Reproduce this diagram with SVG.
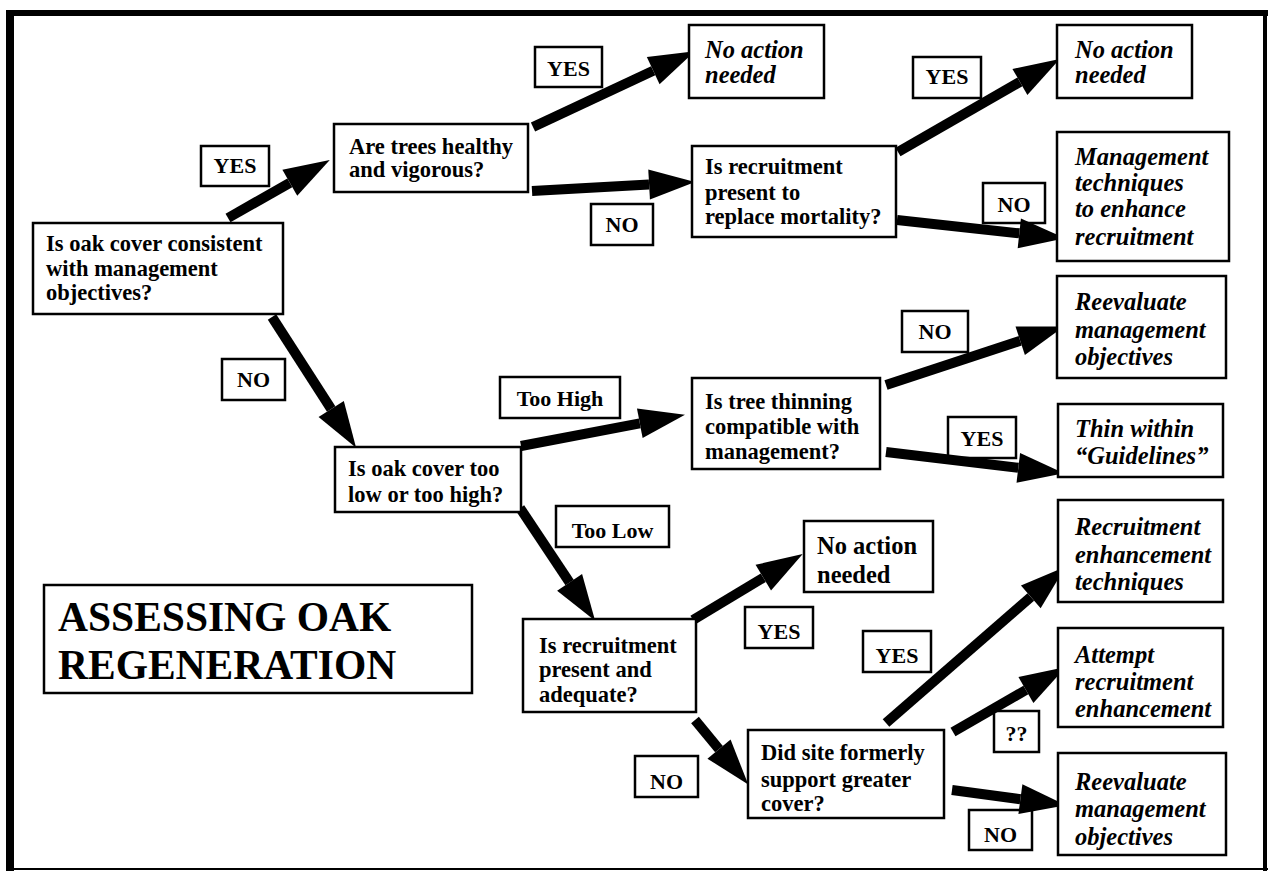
<svg xmlns="http://www.w3.org/2000/svg" width="1268" height="871" viewBox="0 0 1268 871">
<defs>
<style>
.box{fill:#fff;stroke:#000;stroke-width:2.5}
.lbl{fill:#fff;stroke:#000;stroke-width:2.5}
.q{font-family:"Liberation Serif","Times New Roman",serif;font-weight:bold;font-size:22.5px;fill:#000}
.a{font-family:"Liberation Serif","Times New Roman",serif;font-weight:bold;font-style:italic;font-size:24.5px;fill:#000}
.r{font-family:"Liberation Serif","Times New Roman",serif;font-weight:bold;font-size:24.5px;fill:#000}
.t{font-family:"Liberation Serif","Times New Roman",serif;font-weight:bold;font-size:22px;fill:#000;text-anchor:middle}
.title{font-family:"Liberation Serif","Times New Roman",serif;font-weight:bold;font-size:41.5px;fill:#000}
.arr{stroke:#000;stroke-width:10;fill:none;marker-end:url(#head)}
</style>
<marker id="head" markerUnits="userSpaceOnUse" markerWidth="48" markerHeight="32" refX="0" refY="15" orient="auto" overflow="visible">
<path d="M0,0 L46,15 L0,30 Z" fill="#000"/>
</marker>
</defs>
<rect width="1268" height="871" fill="#fff"/>
<g id="frame" fill="#000">
<rect x="6" y="10" width="1262" height="6"/>
<rect x="6" y="10" width="8" height="861"/>
<rect x="1263" y="10" width="4" height="861"/>
<rect x="6" y="868" width="1262" height="2"/>
</g>
<g id="labels">
<g id="lbl1"><rect class="lbl" x="201" y="146" width="68" height="40"/><text class="t" x="235" y="173">YES</text></g>
<g id="lbl2"><rect class="lbl" x="535" y="47" width="67" height="40"/><text class="t" x="568.5" y="76">YES</text></g>
<g id="lbl3"><rect class="lbl" x="591" y="204" width="62" height="41"/><text class="t" x="622" y="232">NO</text></g>
<g id="lbl4"><rect class="lbl" x="913" y="57" width="68" height="41"/><text class="t" x="947" y="84">YES</text></g>
<g id="lbl5"><rect class="lbl" x="983" y="183" width="62" height="40"/><text class="t" x="1014" y="212">NO</text></g>
<g id="lbl6"><rect class="lbl" x="222" y="359" width="63" height="41"/><text class="t" x="253.5" y="387">NO</text></g>
<g id="lbl7"><rect class="lbl" x="500" y="377" width="120" height="41"/><text class="t" x="560" y="406">Too High</text></g>
<g id="lbl8"><rect class="lbl" x="902" y="311" width="66" height="41"/><text class="t" x="935" y="339">NO</text></g>
<g id="lbl9"><rect class="lbl" x="948" y="417" width="68" height="41"/><text class="t" x="982" y="446">YES</text></g>
<g id="lbl10"><rect class="lbl" x="556" y="506" width="113" height="41"/><text class="t" x="612.5" y="538">Too Low</text></g>
<g id="lbl11"><rect class="lbl" x="745" y="607" width="68" height="41"/><text class="t" x="779" y="639">YES</text></g>
<g id="lbl12"><rect class="lbl" x="863" y="631" width="68" height="41"/><text class="t" x="897" y="663">YES</text></g>
<g id="lbl13"><rect class="lbl" x="994" y="711" width="45" height="41"/><text class="t" x="1016.5" y="741">??</text></g>
<g id="lbl14"><rect class="lbl" x="969" y="810" width="63" height="40"/><text class="t" x="1000.5" y="842">NO</text></g>
<g id="lbl15"><rect class="lbl" x="635" y="756" width="63" height="41"/><text class="t" x="666.5" y="789">NO</text></g>
</g>
<g id="connectors">
<line class="arr" x1="228" y1="218" x2="289.8" y2="182.8"/>
<line class="arr" x1="533" y1="127" x2="653.2" y2="70.7"/>
<line class="arr" x1="532" y1="191" x2="649.1" y2="184.5"/>
<line class="arr" x1="898" y1="152" x2="1019.9" y2="81.9"/>
<line class="arr" x1="897" y1="220" x2="1019.3" y2="233.3"/>
<line class="arr" x1="886" y1="385" x2="1020.2" y2="340.8"/>
<line class="arr" x1="886" y1="452" x2="1018.3" y2="467.8"/>
<line class="arr" x1="272" y1="317" x2="331.2" y2="409"/>
<line class="arr" x1="521" y1="446" x2="639.8" y2="423.3"/>
<line class="arr" x1="520" y1="508" x2="569.6" y2="582.4"/>
<line class="arr" x1="693" y1="620" x2="763.3" y2="577.7"/>
<line class="arr" x1="695" y1="720" x2="719" y2="749.1"/>
<line class="arr" x1="886" y1="723" x2="1030.8" y2="596.9"/>
<line class="arr" x1="953" y1="732" x2="1025.9" y2="690"/>
<line class="arr" x1="952" y1="790" x2="1020.4" y2="799.2"/>
</g>
<g id="nodeA"><rect class="box" x="33" y="223" width="250" height="91"/><text class="q"><tspan x="46" y="251">Is oak cover consistent</tspan><tspan x="46" y="276">with management</tspan><tspan x="46" y="300">objectives?</tspan></text></g>
<g id="nodeB"><rect class="box" x="334" y="124" width="194" height="68"/><text class="q"><tspan x="349" y="154">Are trees healthy</tspan><tspan x="349" y="177">and vigorous?</tspan></text></g>
<g id="nodeC"><rect class="box" x="689" y="25" width="135" height="73"/><text class="a"><tspan x="705" y="58">No action</tspan><tspan x="705" y="83">needed</tspan></text></g>
<g id="nodeD"><rect class="box" x="692" y="146" width="204" height="91"/><text class="q"><tspan x="705" y="174">Is recruitment</tspan><tspan x="705" y="200">present to</tspan><tspan x="705" y="224">replace mortality?</tspan></text></g>
<g id="nodeE"><rect class="box" x="1057" y="25" width="135" height="73"/><text class="a"><tspan x="1075" y="58">No action</tspan><tspan x="1075" y="83">needed</tspan></text></g>
<g id="nodeF"><rect class="box" x="1057" y="132" width="172" height="129"/><text class="a"><tspan x="1075" y="165">Management</tspan><tspan x="1075" y="191">techniques</tspan><tspan x="1075" y="217">to enhance</tspan><tspan x="1075" y="245">recruitment</tspan></text></g>
<g id="nodeG"><rect class="box" x="1057" y="276" width="169" height="102"/><text class="a"><tspan x="1075" y="310">Reevaluate</tspan><tspan x="1075" y="338">management</tspan><tspan x="1075" y="365">objectives</tspan></text></g>
<g id="nodeH"><rect class="box" x="692" y="378" width="188" height="91"/><text class="q"><tspan x="705" y="409">Is tree thinning</tspan><tspan x="705" y="434">compatible with</tspan><tspan x="705" y="459">management?</tspan></text></g>
<g id="nodeI"><rect class="box" x="1058" y="404" width="165" height="73"/><text class="a"><tspan x="1075" y="437">Thin within</tspan><tspan x="1075" y="464">“Guidelines”</tspan></text></g>
<g id="nodeJ"><rect class="box" x="335" y="447" width="186" height="65"/><text class="q"><tspan x="348" y="476">Is oak cover too</tspan><tspan x="348" y="502">low or too high?</tspan></text></g>
<g id="nodeK"><rect class="box" x="523" y="619" width="173" height="93"/><text class="q"><tspan x="539" y="653">Is recruitment</tspan><tspan x="539" y="677">present and</tspan><tspan x="539" y="702">adequate?</tspan></text></g>
<g id="nodeL"><rect class="box" x="804" y="521" width="129" height="71"/><text class="r"><tspan x="817" y="554">No action</tspan><tspan x="817" y="583">needed</tspan></text></g>
<g id="nodeM"><rect class="box" x="1058" y="500" width="165" height="102"/><text class="a"><tspan x="1075" y="535">Recruitment</tspan><tspan x="1075" y="563">enhancement</tspan><tspan x="1075" y="590">techniques</tspan></text></g>
<g id="nodeN"><rect class="box" x="1058" y="628" width="165" height="99"/><text class="a"><tspan x="1075" y="663">Attempt</tspan><tspan x="1075" y="690">recruitment</tspan><tspan x="1075" y="717">enhancement</tspan></text></g>
<g id="nodeO"><rect class="box" x="748" y="730" width="196" height="88"/><text class="q"><tspan x="761" y="760">Did site formerly</tspan><tspan x="761" y="787">support greater</tspan><tspan x="761" y="811">cover?</tspan></text></g>
<g id="nodeP"><rect class="box" x="1058" y="753" width="168" height="102"/><text class="a"><tspan x="1075" y="790">Reevaluate</tspan><tspan x="1075" y="817">management</tspan><tspan x="1075" y="845">objectives</tspan></text></g>
<g id="title"><rect class="box" x="44" y="585" width="428" height="108"/><text class="title"><tspan x="58" y="631">ASSESSING OAK</tspan><tspan x="58" y="679">REGENERATION</tspan></text></g>
</svg>
